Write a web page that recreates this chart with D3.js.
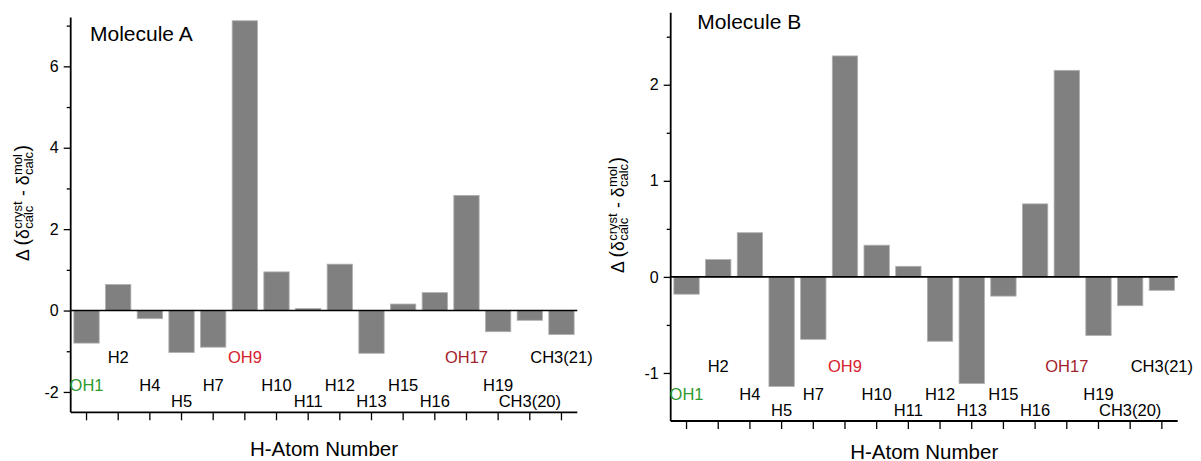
<!DOCTYPE html>
<html><head><meta charset="utf-8">
<script src="https://cdn.jsdelivr.net/npm/d3@7"></script>
<style>body{margin:0;background:#fff}svg{display:block}text{font-family:"Liberation Sans",Arial,sans-serif}</style>
</head><body>
<svg id="chart" width="1201" height="461"></svg>
<script>
const categories = ["OH1","H2","H4","H5","H7","OH9","H10","H11","H12","H13","H15","H16","OH17","H19","CH3(20)","CH3(21)"];
const valuesA = [-0.80,0.64,-0.20,-1.03,-0.90,7.12,0.95,0.05,1.14,-1.05,0.16,0.44,2.83,-0.52,-0.24,-0.59];
const valuesB = [-0.18,0.18,0.46,-1.14,-0.65,2.30,0.33,0.11,-0.67,-1.11,-0.20,0.76,2.15,-0.61,-0.30,-0.14];
const labelLevels = [2,1,2,3,2,1,2,3,2,3,2,3,1,2,3,1];
const labelColors = {"OH1":"#2f9a2f","OH9":"#d7202e","OH17":"#a3232b"};
const majorTicksA = [-2,0,2,4,6];
const minorTicksA = [-1,1,3,5,7];
const majorTicksB = [-1,0,1,2];
const minorTicksB = [-0.5,0.5,1.5,2.5];
const titles = ["Molecule A","Molecule B"];

const levelOffset = {1:-55, 2:-27, 3:-11};
const svg = d3.select("#chart");

const panels = [
  {values:valuesA, major:majorTicksA, minor:minorTicksA, domain:[-2.5,7.2], x0:70.7, x1:577.3, yTop:17.5, yBot:412.3,
   title:titles[0], titleX:90, titleY:40.7, yTitleX:28.5, yTitleY:203, xTitleY:456},
  {values:valuesB, major:majorTicksB, minor:minorTicksB, domain:[-1.5,2.75], x0:670.7, x1:1177.7, yTop:12.7, yBot:421,
   title:titles[1], titleX:697.3, titleY:29.3, yTitleX:623.5, yTitleY:215, xTitleY:458.5}
];

panels.forEach(p => {
  const g = svg.append("g");
  const x = d3.scaleBand().domain(categories).range([p.x0, p.x1]).paddingInner(0.2).paddingOuter(0.1);
  const y = d3.scaleLinear().domain(p.domain).range([p.yBot, p.yTop]);

  g.selectAll("rect.bar").data(categories).join("rect")
    .attr("class","bar")
    .attr("x", c => x(c))
    .attr("width", x.bandwidth())
    .attr("y", (c,i) => y(Math.max(0, p.values[i])))
    .attr("height", (c,i) => Math.abs(y(p.values[i]) - y(0)))
    .attr("fill", "#808080")
    .attr("stroke", "#b0b0b0")
    .attr("stroke-width", 0.8);

  g.append("line").attr("x1", p.x0).attr("x2", p.x1).attr("y1", y(0)).attr("y2", y(0))
    .attr("stroke", "#000").attr("stroke-width", 1.6);

  const yAx = g.append("g").attr("transform", `translate(${p.x0},0)`)
    .call(d3.axisLeft(y).tickValues(p.major).tickSize(7).tickPadding(5).tickFormat(d => String(d)));
  yAx.select(".domain").attr("stroke-width", 1.8).attr("d", `M0,${p.yTop}V${p.yBot}`);
  yAx.selectAll(".tick line").attr("stroke-width", 1.3);
  yAx.selectAll(".tick text").attr("font-size", 16).attr("font-family", '"Liberation Sans",Arial,sans-serif').attr("fill","#000");
  const yMin = g.append("g").attr("transform", `translate(${p.x0},0)`)
    .call(d3.axisLeft(y).tickValues(p.minor).tickSize(4).tickFormat(""));
  yMin.select(".domain").remove();
  yMin.selectAll(".tick line").attr("stroke-width", 1.3);

  const xAx = g.append("g").attr("transform", `translate(0,${p.yBot})`)
    .call(d3.axisBottom(x).tickSize(8).tickFormat(""));
  xAx.select(".domain").attr("stroke-width", 1.8).attr("d", `M${p.x0},0H${p.x1}`);
  xAx.selectAll(".tick line").attr("stroke-width", 1.3);

  g.selectAll("text.lab").data(categories).join("text")
    .attr("class","lab")
    .attr("x", c => x(c) + x.bandwidth()/2)
    .attr("y", (c,i) => p.yBot + levelOffset[labelLevels[i]] + 6)
    .attr("text-anchor","middle")
    .attr("font-size", 16.5)
    .attr("fill", c => labelColors[c] || "#000")
    .text(c => c);

  g.append("text").attr("x", p.titleX).attr("y", p.titleY).attr("font-size", 21).text(p.title);

  g.append("text").attr("x", (p.x0+p.x1)/2).attr("y", p.xTitleY).attr("text-anchor","middle")
    .attr("font-size", 20.5).text("H-Atom Number");

  const yt = g.append("g").attr("transform", `translate(${p.yTitleX},${p.yTitleY}) rotate(-90)`);
  const pieces = [
    {t:"Δ ", fs:17.5},
    {t:"(", fs:19.5},
    {t:"δ", fs:17.5},
    {sup:"cryst", sub:"calc"},
    {t:" - ", fs:17.5},
    {t:"δ", fs:17.5},
    {sup:"mol", sub:"calc"},
    {t:")", fs:19.5}
  ];
  let cx = 0;
  pieces.forEach(pc => {
    if (pc.t !== undefined) {
      const el = yt.append("text").attr("x", cx).attr("y", 0).attr("font-size", pc.fs).style("white-space","pre").text(pc.t);
      cx += el.node().getComputedTextLength();
    } else {
      const a = yt.append("text").attr("x", cx+0.5).attr("y", -6.5).attr("font-size", 13).text(pc.sup);
      const b = yt.append("text").attr("x", cx+0.5).attr("y", 4).attr("font-size", 13).text(pc.sub);
      cx += Math.max(a.node().getComputedTextLength(), b.node().getComputedTextLength()) + 1;
    }
  });
  yt.selectAll("text").attr("transform", `translate(${-cx/2},0)`);
});
</script>
</body></html>
